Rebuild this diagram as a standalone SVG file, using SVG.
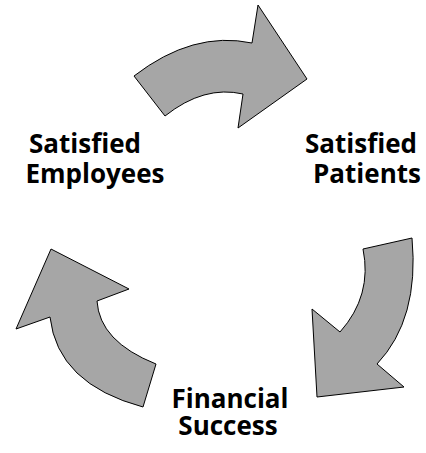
<svg xmlns="http://www.w3.org/2000/svg" width="426" height="453" viewBox="0 0 426 453">
<style>
.arrow{fill:#a6a6a6;stroke:#000;stroke-width:1;stroke-linejoin:miter}
.lbl{font-family:"Open Sans","Liberation Sans",sans-serif;font-weight:bold;font-size:26px;fill:#000;text-anchor:middle}
</style>
<rect width="426" height="453" fill="#fff"/>
<g id="connectors">
<path id="arrow-top" class="arrow" d="M134,76 Q193,30.5 252,43 L258,5 L307,79 L238,128 L243,94 Q204,85 165,116 Z"/>
<path id="arrow-right" class="arrow" d="M412,238 L363,249 Q372.5,295.5 340,332 L312,309 L317,397 L404,387 L377,364 Q419.5,319 412,238 Z"/>
<path id="arrow-left" class="arrow" d="M143,407 L156,364 Q99.5,341.5 97,301 L129,289 L51,249 L16,329 L50,317 Q57.5,384 143,407 Z"/>
</g>
<g id="node-employees">
<text class="lbl" x="85" y="153">Satisfied</text>
<text class="lbl" x="95" y="183">Employees</text>
</g>
<g id="node-patients">
<text class="lbl" x="361" y="153">Satisfied</text>
<text class="lbl" x="367" y="183">Patients</text>
</g>
<g id="node-financial">
<text class="lbl" x="230" y="408">Financial</text>
<text class="lbl" x="228" y="435">Success</text>
</g>
</svg>
